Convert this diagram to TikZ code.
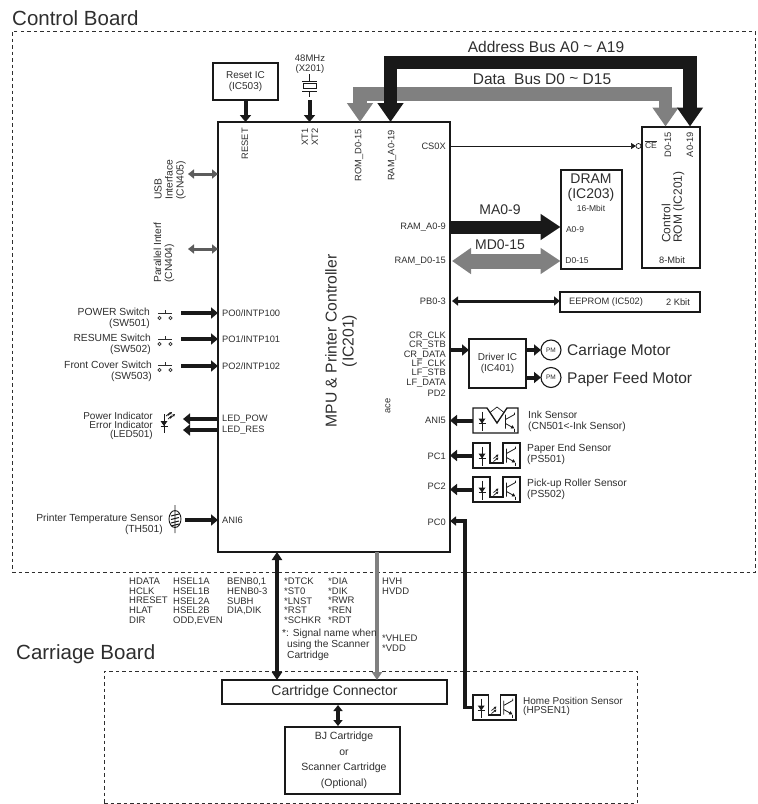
\documentclass[tikz,border=0pt]{standalone}
\usepackage{fontspec}
\setmainfont{Liberation Sans}
\usetikzlibrary{calc,arrows.meta}
\definecolor{ink}{gray}{0.18}
\definecolor{lin}{gray}{0.10}
\definecolor{busg}{gray}{0.50}
\definecolor{ifg}{gray}{0.36}
\tikzset{
  brd/.style={draw=ink, dashed, dash pattern=on 3.5pt off 3pt, line width=0.6pt},
  blk/.style={draw=lin, line width=2pt, outer sep=0pt, inner sep=0pt, text=ink, align=center},
  txs/.style={inner sep=0pt, text=ink, font=\fontsize{9.3}{10}\selectfont},
  txm/.style={inner sep=0pt, text=ink, font=\fontsize{10.3}{11}\selectfont},
  txl/.style={inner sep=0pt, text=ink, font=\fontsize{14}{15}\selectfont},
  sig/.style={txs, anchor=west},
  arw/.style={draw=lin, line width=4pt, -{Triangle[length=7pt,width=11pt]}},
  arb/.style={draw=lin, line width=3pt, {Triangle[length=6pt,width=9pt]}-{Triangle[length=6pt,width=9pt]}},
  ari/.style={draw=ifg, line width=3pt, {Triangle[length=6pt,width=9pt]}-{Triangle[length=6pt,width=9pt]}},
  adb/.style={draw=lin, line width=13.5pt, line join=miter, {Triangle[length=19pt,width=25pt]}-{Triangle[length=19pt,width=25pt]}},
  dtb/.style={draw=busg, line width=13.5pt, line join=miter, {Triangle[length=19pt,width=25pt]}-{Triangle[length=19pt,width=25pt]}},
  sw/.pic={
    \draw[ink, line width=0.6pt] (-5.5,5) circle (1.6) (5.5,5) circle (1.6);
    \draw[ink, line width=0.7pt] (-7,0) -- (7,0) (0,0) -- (0,-3);
  },
  diode/.pic={
    \draw[lin, line width=0.7pt] (0,-9) -- (0,10) (-3.5,3) -- (3.5,3);
    \fill[lin] (-3.5,-2) -- (3.5,-2) -- (0,3) -- cycle;
  },
  photo/.pic={
    \draw[lin, line width=0.8pt] (0,-7) -- (0,7) (0,-2) -- (9,-7) -- (9,-9);
    \draw[lin, line width=0.8pt, -{Triangle[length=3.5pt,width=3.5pt]}] (0,2) -- (9,7);
    \draw[lin, line width=0.8pt] (9,7) -- (9,10);
  },
  beam/.pic={
    \draw[lin, line width=0.7pt, -{Triangle[length=2.5pt,width=2.5pt]}] (-3,1) -- (2,-3);
    \draw[lin, line width=0.7pt, -{Triangle[length=2.5pt,width=2.5pt]}] (-3,4) -- (2,0);
  },
  optsens/.pic={
    \draw[lin, line width=1.3pt] (-23.5,-12.5) -- (-6.5,-12.5) -- (-6.5,7.5) -- (6.5,7.5) -- (6.5,-12.5) -- (23.5,-12.5) -- (23.5,12.5) -- (-23.5,12.5) -- cycle;
    \pic at (-14.5,0) {diode};
    \pic at (0,2) {beam};
    \pic at (10,0) {photo};
    \coordinate (-port) at (-23.5,0);
  },
  inksens/.pic={
    \draw[lin, line width=1.3pt] (-22.5,-12.5) -- (-8.5,-12.5) -- (1.5,2.5) -- (11.5,-12.5) -- (22.5,-12.5) -- (22.5,12.5) -- (-22.5,12.5) -- cycle;
    \pic at (-13.5,0) {diode};
    \draw[lin, line width=0.7pt] (-5.5,-8) -- (1.5,-13.5) -- (8.5,-8);
    \pic at (10,1) {photo};
    \coordinate (-port) at (-22.5,0);
  }
}
\begin{document}
\begin{tikzpicture}[x=1pt,y=-1pt]
\useasboundingbox (0,0) rectangle (758,804);
\node[inner sep=0pt, anchor=west, text=ink, font=\fontsize{20.5}{22}\selectfont] (ctltit) at (12,18) {Control Board};
\node[inner sep=0pt, anchor=west, text=ink, font=\fontsize{20.5}{22}\selectfont] (cartit) at (16,654) {Carriage Board};
\node[brd, minimum width=743pt, minimum height=541pt, outer sep=0pt] (ctl) at (383.5,301.5) {};
\node[brd, minimum width=533pt, minimum height=132pt, outer sep=0pt] (car) at (370.5,737) {};
\node[blk, minimum width=232pt, minimum height=430pt] (mpu) at (334,337) {};
\node[rotate=90, align=center, text=ink, inner sep=0pt, font=\fontsize{15.7}{17}\selectfont] (mpulab) at (341,341) {MPU \& Printer Controller\\(IC201)};
\node[blk, minimum width=65pt, minimum height=37pt, line width=2.6pt, font=\fontsize{10}{10.5}\selectfont] (reset) at (245.5,81.5) {Reset IC\\(IC503)};
\node[blk, minimum width=58pt, minimum height=141pt] (rom) at (671,197) {};
\node[blk, minimum width=61pt, minimum height=99pt] (dram) at (591,219.5) {};
\node[blk, minimum width=140pt, minimum height=20pt] (eep) at (630,302) {};
\node[blk, minimum width=57pt, minimum height=49pt, line width=1.4pt, font=\fontsize{10}{11}\selectfont] (drv) at (497.5,363.5) {Driver IC\\(IC401)};
\node[blk, minimum width=225pt, minimum height=24pt, line width=2.2pt, font=\fontsize{14}{15}\selectfont] (conn) at (334.5,692) {Cartridge Connector};
\node[blk, minimum width=115pt, minimum height=67pt] (bj) at (342.5,760.5) {};
\node[txs, font=\fontsize{10.5}{11}\selectfont] (bj1) at (344,737) {BJ Cartridge};
\node[txs, font=\fontsize{10.5}{11}\selectfont] (bj2) at (344,753) {or};
\node[txs, font=\fontsize{10.5}{11}\selectfont] (bj3) at (344,768) {Scanner Cartridge};
\node[txs, font=\fontsize{10.5}{11}\selectfont] (bj4) at (344,784) {(Optional)};
\node[txs, align=center, font=\fontsize{9.5}{10}\selectfont] (xtal) at (310,64) {48MHz\\(X201)};
\node[txs, rotate=90, anchor=east] (rst) at (245,128) {RESET};
\node[txs, rotate=90, anchor=east] (xt1) at (305,128) {XT1};
\node[txs, rotate=90, anchor=east] (xt2) at (315,128) {XT2};
\node[txs, rotate=90, anchor=east] (romd) at (359,129) {ROM\_D0-15};
\node[txs, rotate=90, anchor=east] (rama) at (392,130) {RAM\_A0-19};
\node[txs, anchor=east] (cs) at (446,146) {CS0X};
\node[txs, anchor=east] (ma) at (446,227) {RAM\_A0-9};
\node[txs, anchor=east] (md) at (446,261) {RAM\_D0-15};
\node[txs, anchor=east] (pb) at (446,301) {PB0-3};
\node[txs, anchor=east] (crc) at (446,336) {CR\_CLK};
\node[txs, anchor=east] (crs) at (446,345) {CR\_STB};
\node[txs, anchor=east] (crd) at (446,355) {CR\_DATA};
\node[txs, anchor=east] (lfc) at (446,364) {LF\_CLK};
\node[txs, anchor=east] (lfs) at (446,373) {LF\_STB};
\node[txs, anchor=east] (lfd) at (446,383) {LF\_DATA};
\node[txs, anchor=east] (pd) at (446,393) {PD2};
\node[txs, anchor=east] (ani5) at (446,420) {ANI5};
\node[txs, anchor=east] (pc1) at (446,456) {PC1};
\node[txs, anchor=east] (pc2) at (446,486) {PC2};
\node[txs, anchor=east] (pc0) at (446,522) {PC0};
\node[txs, rotate=90, anchor=east] (ace) at (388,398) {ace};
\node[sig] (po0) at (222,313) {PO0/INTP100};
\node[sig] (po1) at (222,339) {PO1/INTP101};
\node[sig] (po2) at (222,366) {PO2/INTP102};
\node[sig] (lp) at (222,419) {LED\_POW};
\node[sig] (lr) at (222,430) {LED\_RES};
\node[sig] (ani6) at (222,520) {ANI6};
\node[txm, rotate=90, anchor=west, align=left] (usb) at (170,200) {USB\\Interface\\(CN405)};
\node[txm, rotate=90, anchor=west, align=left] (par) at (164,283) {Parallel Interf\\(CN404)};
\node[txm, anchor=east, align=right] (swa) at (150,318) {POWER Switch\\(SW501)};
\node[txm, anchor=east, align=right] (swb) at (151,344) {RESUME Switch\\(SW502)};
\node[txm, anchor=east, align=right] (swc) at (152,371) {Front Cover Switch\\(SW503)};
\node[txm, anchor=east, align=right, font=\fontsize{10}{9.2}\selectfont] (led) at (153,426) {Power Indicator\\Error Indicator\\(LED501)};
\node[txm, anchor=east, align=right] (th) at (163,524) {Printer Temperature Sensor\\(TH501)};
\pic at (165,313) {sw};
\pic at (165,339) {sw};
\pic at (165,365) {sw};
\pic at (164,423) {diode};
\draw[lin, line width=0.7pt, -{Triangle[length=2.5pt,width=2.5pt]}] (168,419) -- (171,416) -- (170.5,418) -- (175,414);
\draw[lin, line width=0.7pt, -{Triangle[length=2.5pt,width=2.5pt]}] (166,416) -- (169,413.5) -- (168.5,415) -- (172,412);
\draw[lin, line width=0.9pt] (175,519) ellipse (6 and 8.5) (175,505) -- (175,533);
\draw[lin, line width=1pt] (171,516) -- (179,514) (171,519.5) -- (179,517.5) (171,523) -- (179,521) (171,526) -- (179,524);
\draw[lin, line width=0.7pt] (309.5,74) -- (309.5,81) (302,81) -- (317,81) (302,91) -- (317,91) (309.5,91) -- (309.5,97);
\draw[lin, line width=0.8pt] (303,83.5) rectangle (316,88.5);
\coordinate (xout) at (309.5,100);
\node[txl] (adrlab) at (546,47) {\fontsize{15.5}{17}\selectfont Address Bus A0 \raisebox{1pt}{\char`\~} A19};
\node[txl] (datlab) at (542,79) {\fontsize{15.5}{17}\selectfont Data\ \ Bus D0 \raisebox{1pt}{\char`\~} D15};
\coordinate (dl) at (360,94);
\coordinate (dr) at (665.5,94);
\coordinate (al) at (390.5,62.5);
\coordinate (ar) at (690,62.5);
\draw[dtb] (dl |- mpu.north) -- (dl) -- (dr) -- (dr |- rom.north);
\draw[adb] (al |- mpu.north) -- (al) -- (ar) -- (ar |- rom.north);
\draw[arw] (reset.south) -- (reset.south |- mpu.north);
\draw[arw] (xout) -- (xout |- mpu.north);
\node[txs, font=\fontsize{8.5}{9}\selectfont] (ce) at (651,145) {$\overline{\mbox{CE}}$};
\node[txs, rotate=90, anchor=east] (romdp) at (668,132) {D0-15};
\node[txs, rotate=90, anchor=east] (romap) at (690,132) {A0-19};
\node[rotate=90, anchor=west, align=left, text=ink, inner sep=0pt, font=\fontsize{12}{11.5}\selectfont] (romlab) at (673,243) {Control\\ROM (IC201)};
\node[txs] (rom8) at (672,260) {8-Mbit};
\node[txl, align=center] (drlab) at (591,188) {DRAM\\(IC203)};
\node[txs, font=\fontsize{8.5}{9}\selectfont] (dr16) at (591,208) {16-Mbit};
\node[txs, font=\fontsize{8.5}{9}\selectfont] (dra) at (575,230) {A0-9};
\node[txs, font=\fontsize{8.5}{9}\selectfont] (drd) at (577,261) {D0-15};
\node[txs] (ee1) at (606,302) {EEPROM (IC502)};
\node[txs] (ee2) at (678,302) {2 Kbit};
\node[txl] (malab) at (500,210) {MA0-9};
\node[txl] (mdlab) at (500,245) {MD0-15};
\node[draw=lin, circle, line width=0.7pt, minimum size=5pt, inner sep=0pt, outer sep=0pt] (ceb) at (638.5,146) {};
\draw[draw=lin, line width=0.7pt, -{Triangle[length=5pt,width=6pt]}] (cs -| mpu.east) -- (ceb.west);
\draw[draw=lin, line width=13pt, -{Triangle[length=20pt,width=25pt]}] (ma -| mpu.east) -- (ma -| dram.west);
\draw[draw=busg, line width=15pt, {Triangle[length=19pt,width=25pt]}-{Triangle[length=20pt,width=25pt]}] ($(md -| mpu.east)+(2,0)$) -- (md -| dram.west);
\draw[arb] ($(pb -| mpu.east)+(2,0)$) -- (pb -| eep.west);
\node[draw=lin, circle, line width=1.1pt, minimum size=20pt, inner sep=0pt, outer sep=0pt, text=ink, font=\fontsize{6.5}{7}\selectfont] (mca) at (551,350) {PM};
\node[draw=lin, circle, line width=1.1pt, minimum size=20pt, inner sep=0pt, outer sep=0pt, text=ink, font=\fontsize{6.5}{7}\selectfont] (mpf) at (551,377.5) {PM};
\draw[arw] (mca -| mpu.east) -- (mca -| drv.west);
\draw[arw] (mca -| drv.east) -- (mca.west);
\draw[arw] (mpf -| drv.east) -- (mpf.west);
\node[inner sep=0pt, anchor=west, text=ink, font=\fontsize{15.5}{16}\selectfont] (calab) at (567,351) {Carriage Motor};
\node[inner sep=0pt, anchor=west, text=ink, font=\fontsize{15.5}{16}\selectfont] (pflab) at (567,379) {Paper Feed Motor};
\pic (ink) at (495.5,420.5) {inksens};
\pic (pe) at (496.5,455.5) {optsens};
\pic (pr) at (496.5,489.5) {optsens};
\pic[xscale=0.915] (hp) at (494.5,707.5) {optsens};
\node[txm, anchor=west, align=left] (inklab) at (528,421) {Ink Sensor\\(CN501<-Ink Sensor)};
\node[txm, anchor=west, align=left] (pelab) at (527,454.5) {Paper End Sensor\\(PS501)};
\node[txm, anchor=west, align=left] (prlab) at (527,489.5) {Pick-up Roller Sensor\\(PS502)};
\node[txm, anchor=west, align=left, font=\fontsize{10}{9.5}\selectfont] (hplab) at (523,706.5) {Home Position Sensor\\(HPSEN1)};
\draw[arw] (ink-port) -- (ink-port -| mpu.east);
\draw[arw] (pe-port) -- (pe-port -| mpu.east);
\draw[arw] (pr-port) -- (pr-port -| mpu.east);
\coordinate (pcb) at (465,521);
\draw[draw=lin, line width=3.5pt, line join=miter, -{Triangle[length=6pt,width=9pt]}] (hp-port) -- (hp-port -| pcb) -- (pcb) -- (pcb -| mpu.east);
\coordinate (usbp) at (188,174);
\coordinate (parp) at (188,249);
\coordinate (swo) at (181,0);
\coordinate (ledo) at (183,0);
\coordinate (tho) at (185,520);
\draw[ari] (usbp -| mpu.west) -- (usbp);
\draw[ari] (parp -| mpu.west) -- (parp);
\draw[arw] (swo |- po0) -- (po0 -| mpu.west);
\draw[arw] (swo |- po1) -- (po1 -| mpu.west);
\draw[arw] (swo |- po2) -- (po2 -| mpu.west);
\draw[arw] (lp -| mpu.west) -- (ledo |- lp);
\draw[arw] (lr -| mpu.west) -- (ledo |- lr);
\draw[arw] (tho) -- (tho -| mpu.west);
\coordinate (ws) at (277,678);
\coordinate (vh) at (377,678);
\draw[draw=lin, line width=4.5pt, {Triangle[length=8pt,width=10pt]}-{Triangle[length=8pt,width=10pt]}] (ws |- mpu.south) -- (ws |- conn.north);
\draw[draw=busg, line width=4pt, -{Triangle[length=8pt,width=10pt]}] (vh |- mpu.south) -- (vh |- conn.north);
\coordinate (cbj) at (338,680);
\draw[arb, line width=3.5pt] ($(cbj |- conn.south)+(0,1)$) -- ($(cbj |- bj.north)+(0,-1)$);
\node[txs, anchor=north west, align=left, font=\fontsize{9.5}{9.6}\selectfont] (s1) at (129,578) {HDATA\\HCLK\\HRESET\\HLAT\\DIR};
\node[txs, anchor=north west, align=left, font=\fontsize{9.5}{9.6}\selectfont] (s2) at (173,578) {HSEL1A\\HSEL1B\\HSEL2A\\HSEL2B\\ODD,EVEN};
\node[txs, anchor=north west, align=left, font=\fontsize{9.5}{9.6}\selectfont] (s3) at (227,578) {BENB0,1\\HENB0-3\\SUBH\\DIA,DIK};
\node[txs, anchor=north west, align=left, font=\fontsize{9.5}{9.6}\selectfont] (s4) at (284,578) {*DTCK\\*ST0\\*LNST\\*RST\\*SCHKR};
\node[txs, anchor=north west, align=left, font=\fontsize{9.5}{9.6}\selectfont] (s5) at (328,578) {*DIA\\*DIK\\*RWR\\*REN\\*RDT};
\node[txs, anchor=north west, align=left, font=\fontsize{9.5}{9.6}\selectfont] (s6) at (382,578) {HVH\\HVDD};
\node[txs, anchor=north west, align=left, font=\fontsize{9.5}{10}\selectfont] (s7) at (382,635) {*VHLED\\*VDD};
\node[txs, anchor=north west, align=left, font=\fontsize{10.2}{11}\selectfont] (note) at (282,629) {*: Signal name when\\\hspace*{5pt}using the Scanner\\\hspace*{5pt}Cartridge};
\end{tikzpicture}
\end{document}
